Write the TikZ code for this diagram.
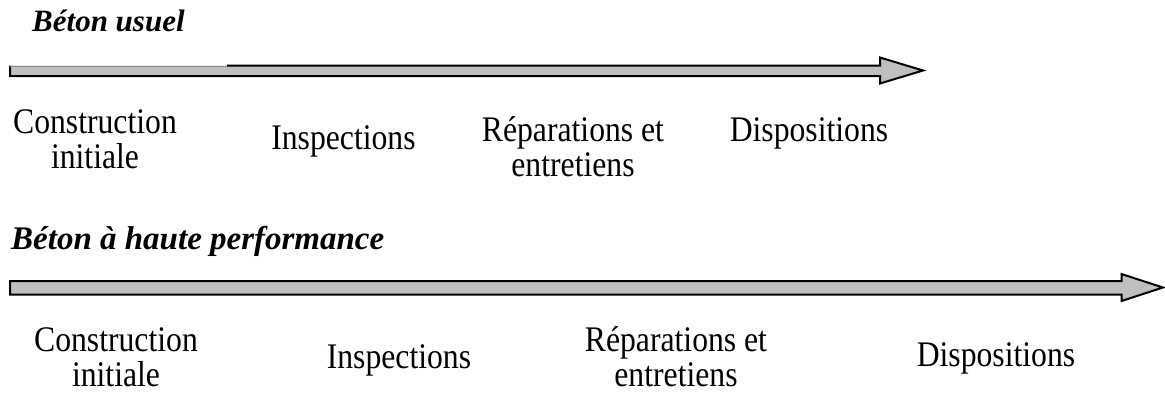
\documentclass[tikz,border=0pt]{standalone}
\usepackage{fontspec}
\setmainfont{Liberation Serif}
\newfontfamily\bodyfont{Liberation Serif}[FakeStretch=0.88]
\begin{document}
\begin{tikzpicture}[x=1pt,y=-1pt,
  lbl/.style={anchor=base,align=center,inner sep=0pt,
    font=\bodyfont\fontsize{36}{35}\selectfont},
  ttl/.style={anchor=base west,inner sep=0pt,
    font=\bfseries\itshape\fontsize{31}{34}\selectfont},
  bar/.style={fill=black!25,draw=black,line width=2pt,line join=miter}]
\useasboundingbox (0,0) rectangle (1165,392);
% top arrow
\coordinate (a1e) at (923,70.5);
\fill[black!25] (10,65.5) -- (880,65.5) -- (880,57.5) -- (a1e) -- (880,83.5) -- (880,76) -- (10,76) -- cycle;
\draw[black,line width=2pt,line join=miter] (227,65.5) -- (880,65.5) -- (880,57.5) -- (a1e) -- (880,83.5) -- (880,76) -- (10,76) -- (10,65.5);
\draw[black!45,line width=1pt] (10,66) -- (227,66);
% bottom arrow
\coordinate (a2e) at (1163,287.5);
\draw[bar] (10,281) -- (1121.5,281) -- (1121.5,274) -- (a2e) -- (1121.5,301) -- (1121.5,294.5) -- (10,294.5) -- cycle;
% titles
\node[ttl] (t1) at (32,31) {Béton usuel};
\node[ttl,font=\bfseries\itshape\fontsize{33}{36}\selectfont] (t2) at (11,249) {Béton à haute performance};
% top labels (base = last line)
\node[lbl] (c1) at (95,168) {Construction\\initiale};
\node[lbl] (i1) at (343.5,149) {Inspections};
\node[lbl] (r1) at (573,176) {Réparations et\\entretiens};
\node[lbl] (d1) at (809,141) {Dispositions};
% bottom labels
\node[lbl] (c2) at (116,386) {Construction\\initiale};
\node[lbl] (i2) at (399,368) {Inspections};
\node[lbl] (r2) at (676,386) {Réparations et\\entretiens};
\node[lbl] (d2) at (996,366) {Dispositions};
\end{tikzpicture}
\end{document}
